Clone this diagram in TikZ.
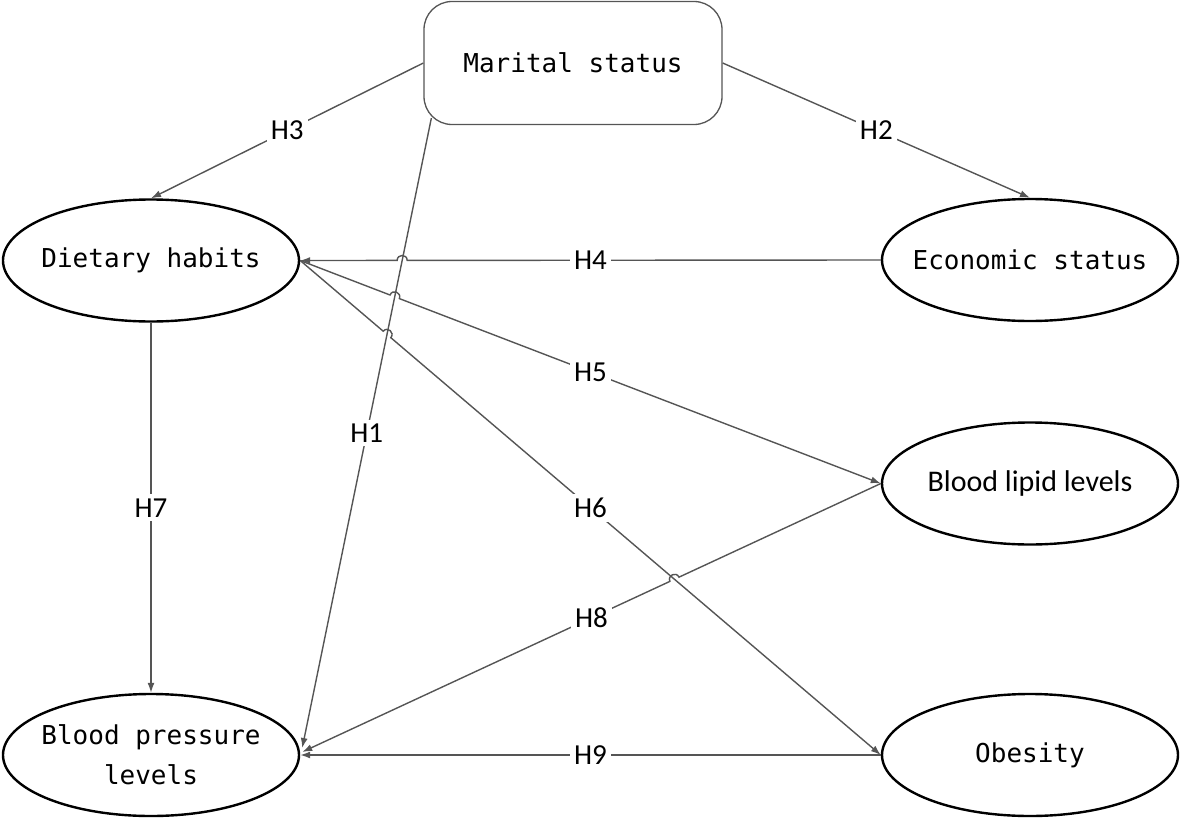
\documentclass[tikz,border=0pt]{standalone}
\usepackage{fontspec}
\setmainfont{Carlito}
\newfontfamily\monof{DejaVu Sans Mono}
\usetikzlibrary{arrows.meta,calc,intersections,shapes.geometric}
\definecolor{lc}{RGB}{85,85,85}
\begin{document}
\begin{tikzpicture}[x=1pt,y=-1pt,
  ell/.style={ellipse, draw=black, line width=2.4pt, minimum width=296pt, minimum height=122pt,
    inner xsep=-50pt, inner ysep=0pt, align=center, font=\monof\fontsize{26}{40}\selectfont},
  mar/.style={rectangle, draw=lc, line width=1.3pt, rounded corners=28pt, minimum width=298pt,
    minimum height=123pt, inner sep=0pt, font=\monof\fontsize{26}{32}\selectfont},
  conn/.style={draw=lc, line width=1.4pt},
  arr/.style={conn, -{Latex[length=10pt,width=7pt]}},
  lbl/.style={fill=white, inner sep=4pt, font=\fontsize{29}{32}\selectfont},
  hop/.style={looseness=1.7}
]
\useasboundingbox (0,0) rectangle (1181,819);
% nodes
\node[mar] (mar) at (573,63) {Marital status};
\node[ell] (diet) at (151,260.5) {Dietary habits};
\node[ell] (eco) at (1030,260) {Economic status};
\node[ell, font=\fontsize{30}{36}\selectfont] (lip) at (1030,483.5) {Blood lipid levels};
\node[ell] (obe) at (1030,755) {Obesity};
\node[ell] (bp) at (151,755) {Blood pressure\\levels};
% endpoints of H1 and H8
\coordinate (h1s) at ($(mar.south west)+(8,-7)$);
\coordinate (h1e) at ($(bp.east)+(2,-7)$);
\coordinate (h8e) at ($(bp.east)+(2,-3)$);
% invisible straight paths for crossings
\path[name path=p1] (h1s) -- (h1e);
\path[name path=p4] (eco.west) -- (diet.east);
\path[name path=p5] (diet.east) -- (lip.west);
\path[name path=p6] (diet.east) -- (obe.west);
\path[name path=p8] (lip.west) -- (h8e);
\path[name intersections={of=p1 and p4, by=x4}];
\path[name intersections={of=p1 and p5, by=x5}];
\path[name intersections={of=p1 and p6, by=x6}];
\path[name intersections={of=p6 and p8, by=x8}];
% connectors
\draw[arr] (mar.west) -- (diet.north) node[lbl, pos=0.5] {H3};
\draw[arr] (mar.east) -- (eco.north) node[lbl, pos=0.5] {H2};
\draw[arr] (h1s) -- (h1e) node[lbl, pos=0.5] {H1};
\draw[arr] (eco.west) -- ($(x4)!5pt!(eco.west)$) to[bend right=90, hop] ($(x4)!5pt!(diet.east)$) -- (diet.east);
\draw[arr] (diet.east) -- ($(x5)!5pt!(diet.east)$) to[bend left=90, hop] ($(x5)!5pt!(lip.west)$) -- (lip.west);
\draw[arr] (diet.east) -- ($(x6)!5pt!(diet.east)$) to[bend left=90, hop] ($(x6)!5pt!(obe.west)$) -- (obe.west);
\draw[arr] (lip.west) -- ($(x8)!5pt!(lip.west)$) to[bend right=90, hop] ($(x8)!5pt!(h8e)$) -- (h8e);
\draw[arr] (diet.south) -- (bp.north) node[lbl, pos=0.5] {H7};
\draw[arr] (obe.west) -- (bp.east) node[lbl, pos=0.5] {H9};
% labels for hopped connectors
\path (eco.west) -- (diet.east) node[lbl, pos=0.5] {H4};
\path (diet.east) -- (lip.west) node[lbl, pos=0.5] {H5};
\path (diet.east) -- (obe.west) node[lbl, pos=0.5] {H6};
\path (lip.west) -- (h8e) node[lbl, pos=0.5] {H8};
\end{tikzpicture}
\end{document}
